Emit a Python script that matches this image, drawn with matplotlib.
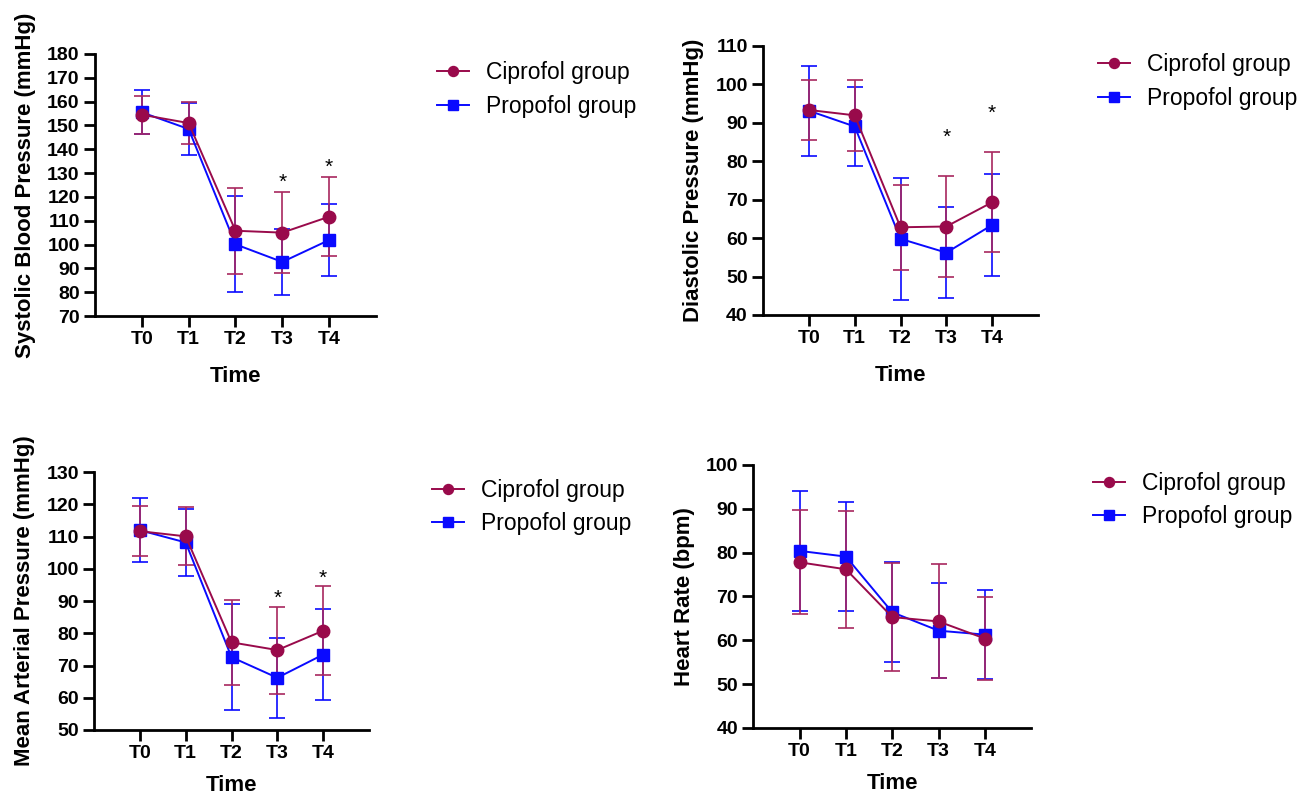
import matplotlib.pyplot as plt

plt.rcParams['font.family'] = ['Liberation Sans', 'DejaVu Sans']

times = ['T0', 'T1', 'T2', 'T3', 'T4']
groups = ['Ciprofol group', 'Propofol group']

# mean and SD
sbp_cip = [154.5, 151.0, 105.8, 105.0, 111.7]
sbp_cip_sd = [7.9, 8.8, 18.0, 17.0, 16.6]
sbp_prop = [155.5, 148.5, 100.1, 92.7, 101.9]
sbp_prop_sd = [9.3, 11.0, 20.1, 13.8, 15.1]

dbp_cip = [93.3, 91.9, 62.8, 63.0, 69.3]
dbp_cip_sd = [7.9, 9.3, 11.0, 13.0, 13.0]
dbp_prop = [93.1, 89.0, 59.8, 56.2, 63.4]
dbp_prop_sd = [11.7, 10.2, 15.8, 11.8, 13.2]

map_cip = [111.7, 110.1, 77.2, 74.8, 80.8]
map_cip_sd = [7.8, 9.0, 13.2, 13.5, 13.8]
map_prop = [112.0, 108.2, 72.6, 66.2, 73.4]
map_prop_sd = [9.9, 10.4, 16.5, 12.5, 14.0]

hr_cip = [77.8, 76.2, 65.3, 64.3, 60.4]
hr_cip_sd = [11.9, 13.4, 12.3, 13.0, 9.4]
hr_prop = [80.4, 79.1, 66.4, 62.2, 61.3]
hr_prop_sd = [13.6, 12.5, 11.4, 10.9, 10.1]

sig_points = [3, 4]  # T3, T4 marked with *

CIP = '#990a4b'
CIP_E = '#a8285f'
PROP = '#0a0aff'

fig = plt.figure(figsize=(12.97, 7.95), dpi=100)


def panel(rect, cip, cip_sd, prop, prop_sd, ylo, yhi, ystep, ylabel,
          sig, star_off, leg_xy, xpad):
    ax = fig.add_axes(rect)
    x = list(range(len(times)))
    hp = ax.errorbar(x, prop, yerr=prop_sd, fmt='-s', color=PROP, ecolor=PROP,
                     ms=8.5, lw=1.4, elinewidth=1.2, capsize=5.5, capthick=1.2)
    hc = ax.errorbar(x, cip, yerr=cip_sd, fmt='-o', color=CIP, ecolor=CIP_E,
                     ms=9, lw=1.4, elinewidth=1.2, capsize=5.5, capthick=1.2)
    for i in sig:
        ax.annotate('*', (i, cip[i] + cip_sd[i]), xytext=(0, star_off),
                    textcoords='offset points', ha='center', va='center',
                    fontsize=15)
    ax.set_xlim(-1, 5)
    ax.set_ylim(ylo, yhi)
    ax.set_xticks(x)
    ax.set_xticklabels(times)
    ax.set_yticks(range(ylo, yhi + 1, ystep))
    for s in ['top', 'right']:
        ax.spines[s].set_visible(False)
    for s in ['left', 'bottom']:
        ax.spines[s].set_linewidth(2)
    ax.tick_params(width=2, length=8, labelsize=14, pad=3)
    for lab in ax.get_xticklabels() + ax.get_yticklabels():
        lab.set_fontweight('bold')
    ax.set_xlabel('Time', fontsize=16, fontweight='bold', labelpad=xpad)
    ax.set_ylabel(ylabel, fontsize=16, fontweight='bold', labelpad=8)
    ax.legend([hc[0], hp[0]], groups, loc='center left', frameon=False,
              bbox_to_anchor=leg_xy, bbox_transform=fig.transFigure,
              fontsize=16.5, handlelength=1.4, handletextpad=0.75,
              labelspacing=0.45, borderpad=0, borderaxespad=0, markerscale=0.8)
    return ax


panel([0.0732, 0.6025, 0.2167, 0.3296], sbp_cip, sbp_cip_sd, sbp_prop,
      sbp_prop_sd, 70, 180, 10, 'Systolic Blood Pressure (mmHg)',
      sig_points, 7, (437 / 1297, 1 - 89.5 / 795), 13)
panel([0.5883, 0.6038, 0.2120, 0.3387], dbp_cip, dbp_cip_sd, dbp_prop,
      dbp_prop_sd, 40, 110, 10, 'Diastolic Pressure (mmHg)',
      sig_points, 28, (1098 / 1297, 1 - 81.5 / 795), 13)
panel([0.0725, 0.0818, 0.2120, 0.3242], map_cip, map_cip_sd, map_prop,
      map_prop_sd, 50, 130, 10, 'Mean Arterial Pressure (mmHg)',
      sig_points, 6, (432 / 1297, 1 - 507 / 795), 9)
panel([0.5808, 0.0843, 0.2143, 0.3308], hr_cip, hr_cip_sd, hr_prop,
      hr_prop_sd, 40, 100, 10, 'Heart Rate (bpm)',
      [], 0, (1093 / 1297, 1 - 500 / 795), 9)

fig.savefig('out.png', dpi=100)
